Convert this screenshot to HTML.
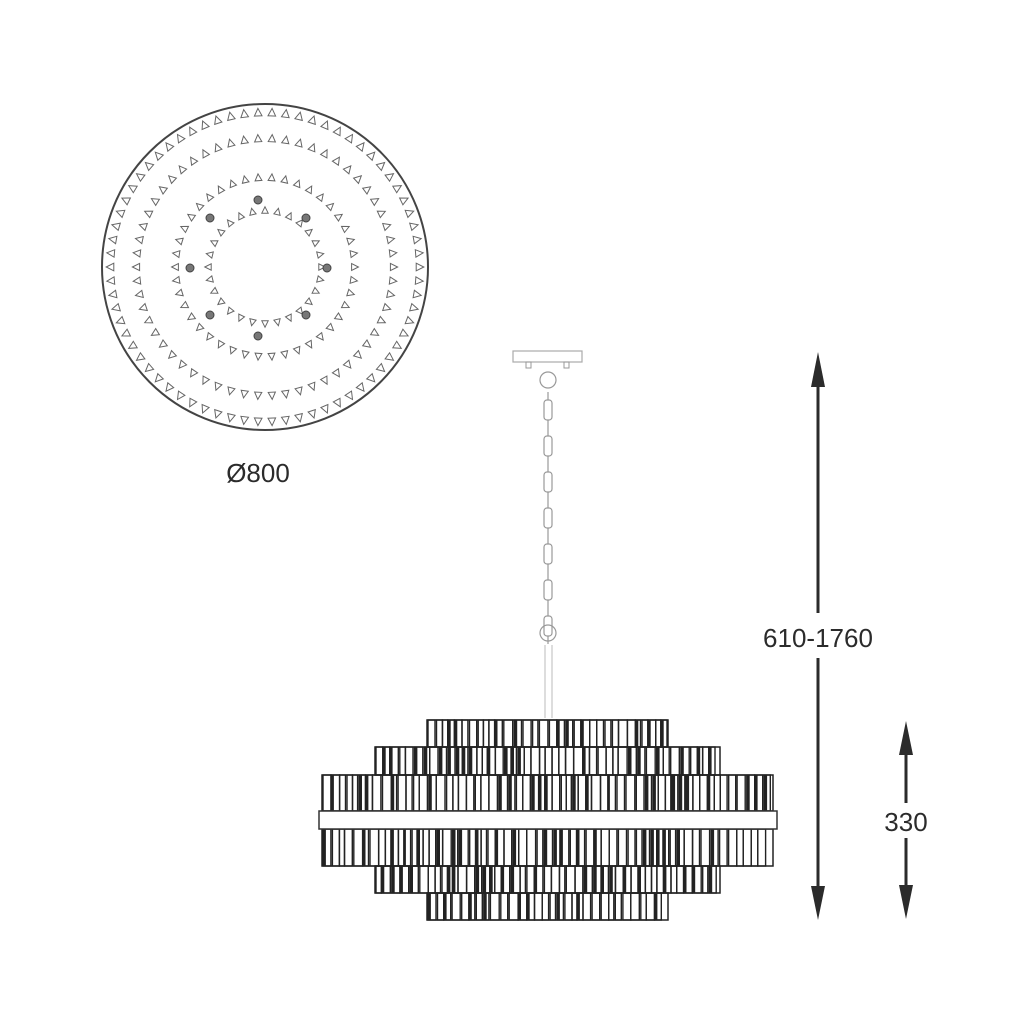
<!DOCTYPE html>
<html><head><meta charset="utf-8"><style>
html,body{margin:0;padding:0;background:#fff;}
svg{display:block}
text{font-family:"Liberation Sans",sans-serif;fill:#2b2b2b}
</style></head><body>
<svg id="s" width="1024" height="1024" viewBox="0 0 1024 1024" xmlns="http://www.w3.org/2000/svg">
<rect width="1024" height="1024" fill="#fff"/>
<circle cx="265" cy="267" r="163" fill="none" stroke="#444" stroke-width="2"/>
<g id="rings"></g>
<g id="dots" fill="#777" stroke="#444" stroke-width="1"></g>
<text x="258" y="482" font-size="26" text-anchor="middle">Ø800</text>
<rect x="513" y="351" width="69" height="11" fill="#fff" stroke="#aaa" stroke-width="1.2"/>
<rect x="526" y="362" width="5" height="6" fill="none" stroke="#999"/>
<rect x="564" y="362" width="5" height="6" fill="none" stroke="#999"/>
<g id="chain" fill="none" stroke="#999" stroke-width="1.2"></g>
<line x1="545" y1="645" x2="545" y2="718" stroke="#bbb" stroke-width="1"/>
<line x1="552" y1="645" x2="552" y2="718" stroke="#bbb" stroke-width="1"/>
<g id="lamp" fill="none" stroke="#222" stroke-width="1.5"></g>
<rect x="319" y="811" width="458" height="18" fill="#fff" stroke="#333" stroke-width="1.5"/>
<g stroke="#2b2b2b" stroke-width="3">
<line x1="818" y1="380" x2="818" y2="613"/>
<line x1="818" y1="658" x2="818" y2="893"/>
<line x1="906" y1="748" x2="906" y2="803"/>
<line x1="906" y1="838" x2="906" y2="892"/>
</g>
<g fill="#2b2b2b">
<polygon points="818,352 811,387 825,387"/>
<polygon points="818,920 811,886 825,886"/>
<polygon points="906,721 899,755 913,755"/>
<polygon points="906,919 899,885 913,885"/>
</g>
<text x="818" y="647" font-size="26" text-anchor="middle">610-1760</text>
<text x="906" y="831" font-size="26" text-anchor="middle">330</text>
</svg>
<script>
var NS="http://www.w3.org/2000/svg";
function el(p,t,a){var e=document.createElementNS(NS,t);for(var k in a)e.setAttribute(k,a[k]);p.appendChild(e);return e;}
var rings=document.getElementById('rings');
var cx=265,cy=267;
[[155,70,3.8],[129,58,3.6],[90,42,3.4],[57,28,3.2]].forEach(function(r){
  var R=r[0],n=r[1],s=r[2];
  for(var i=0;i<n;i++){var a=i/n*2*Math.PI;
    var x=cx+R*Math.cos(a),y=cy+R*Math.sin(a);
    var ux=Math.cos(a),uy=Math.sin(a),px=-uy,py=ux;
    var pts=[[x+ux*s,y+uy*s],[x-ux*s+px*s,y-uy*s+py*s],[x-ux*s-px*s,y-uy*s-py*s]];
    el(rings,'polygon',{points:pts.map(function(p){return p[0].toFixed(1)+','+p[1].toFixed(1)}).join(' '),fill:'none',stroke:'#666','stroke-width':'1'});
  }});
var dots=document.getElementById('dots');
[[258,200],[210,218],[306,218],[190,268],[327,268],[210,315],[306,315],[258,336]].forEach(function(d){el(dots,'circle',{cx:d[0],cy:d[1],r:4});});
var ch=document.getElementById('chain');
el(ch,'circle',{cx:548,cy:380,r:8});
el(ch,'circle',{cx:548,cy:633,r:8});
for(var y=392;y<620;y+=36){el(ch,'rect',{x:544,y:y+8,width:8,height:20,rx:3});el(ch,'line',{x1:548,y1:y,x2:548,y2:y+8});el(ch,'line',{x1:548,y1:y+28,x2:548,y2:y+36});}
var lamp=document.getElementById('lamp');
var seed=7;function rnd(){seed=(seed*9301+49297)%233280;return seed/233280;}
function tier(x0,x1,y0,y1){
  el(lamp,'rect',{x:x0,y:y0,width:x1-x0,height:y1-y0});
  var x=x0+1;
  while(x<x1-6){
    var w=5+rnd()*4; if(x+w>x1-1)w=x1-1-x;
    el(lamp,'rect',{x:x.toFixed(1),y:y0,width:w.toFixed(1),height:y1-y0,'stroke-width':1.4});
    if(rnd()<0.35) el(lamp,'line',{x1:(x+1.5).toFixed(1),y1:y0,x2:(x+1.5).toFixed(1),y2:y1,'stroke-width':2.8});
    x+=w+(rnd()<0.4?1.5:0);
  }
}
tier(427,668,720,747);
tier(375,720,747,775);
tier(322,773,775,811);
tier(322,773,829,866);
tier(375,720,866,893);
tier(427,668,893,920);
</script>
</body></html>
